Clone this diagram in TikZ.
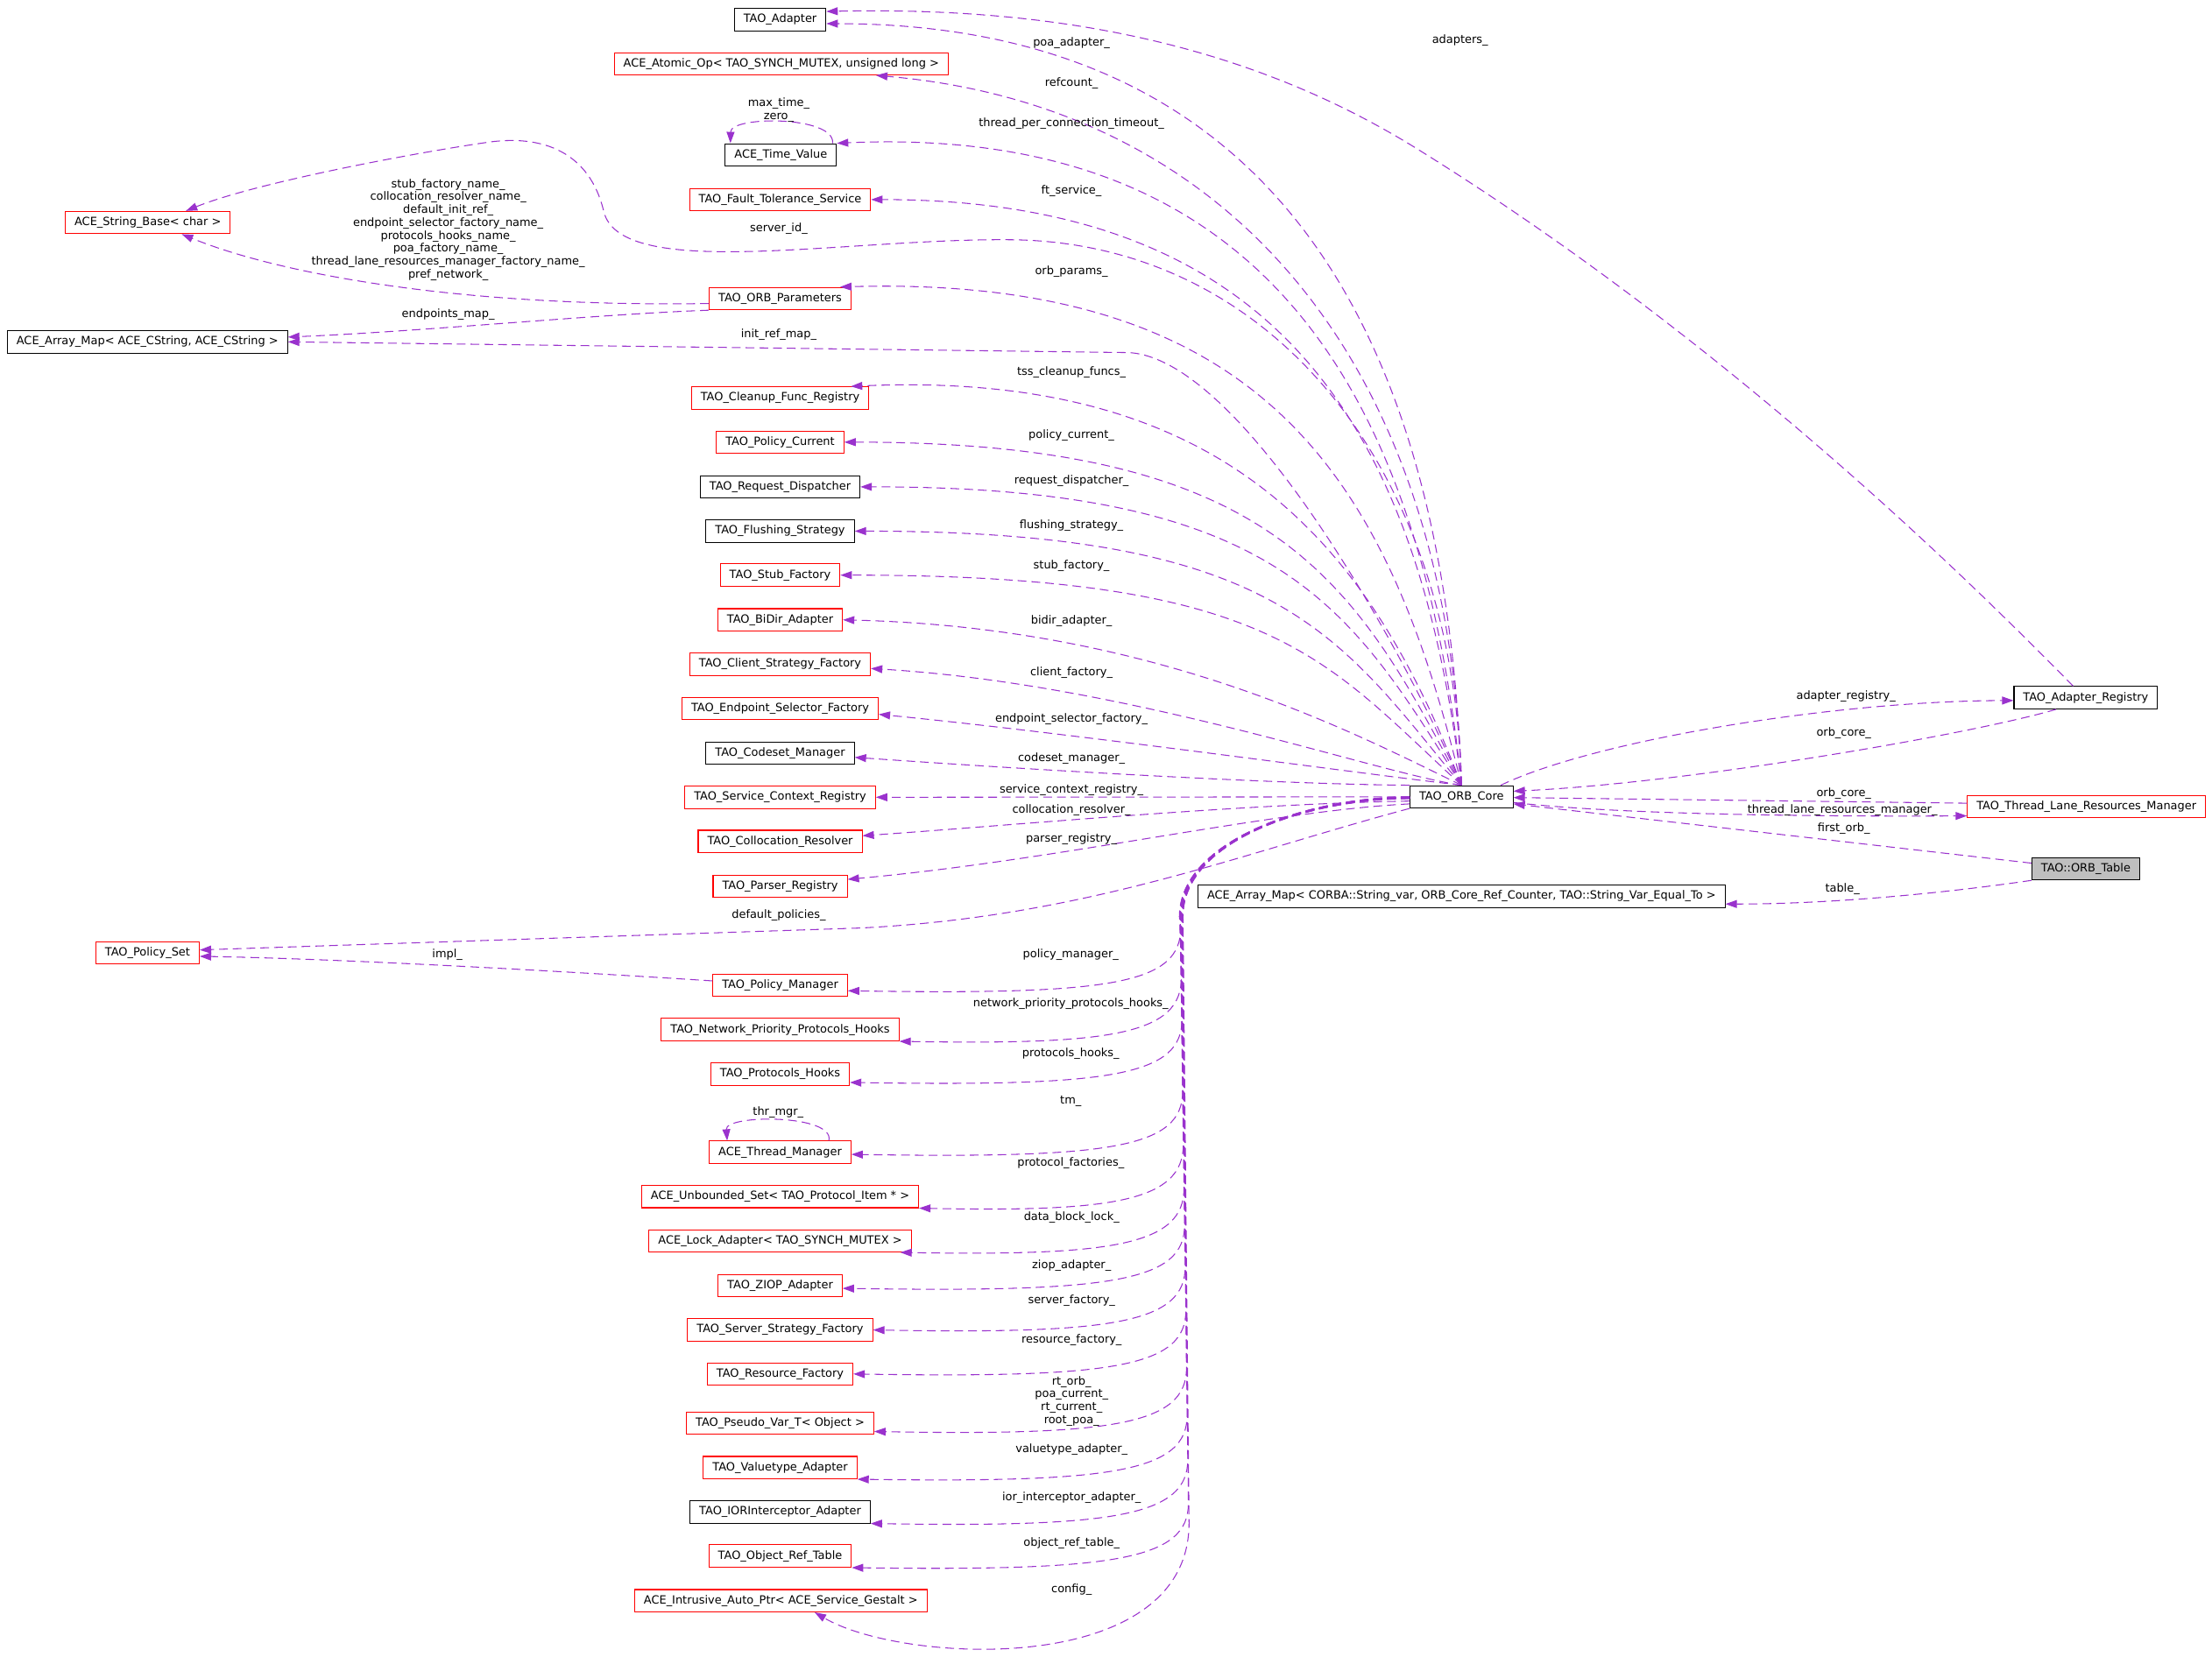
\documentclass[tikz,border=0pt]{standalone}
\usepackage{fontspec}
\setmainfont{DejaVu Sans}
\usetikzlibrary{arrows.meta}
\definecolor{memcol}{HTML}{9A32CD}
\definecolor{tblgray}{HTML}{BFBFBF}
\begin{document}
\begin{tikzpicture}[x=0.16104mm, y=-0.16104mm]
\tikzset{klass/.style={draw, fill=white, line width=0.3pt, inner xsep=1.05mm, inner ysep=0pt, minimum height=2.55mm, font=\fontsize{3.68pt}{4.2pt}\selectfont},
  redklass/.style={klass, draw=red},
  grayklass/.style={klass, fill=tblgray},
  memb/.style={draw=memcol, line width=0.3pt, dash pattern=on 1mm off 0.57mm, -{Triangle[length=1.3mm, width=0.9mm]}},
  lbl/.style={inner sep=0pt, align=center, font=\fontsize{3.68pt}{4.19pt}\selectfont}}
\useasboundingbox (0,0) rectangle (1568,1174.3);
% classes
\node[klass] (adapter) at (553,13.9) {TAO\_Adapter};
\node[redklass] (atomic) at (553.8,45.2) {ACE\_Atomic\_Op< TAO\_SYNCH\_MUTEX, unsigned long >};
\node[klass] (timeval) at (553.5,109.8) {ACE\_Time\_Value};
\node[redklass] (ftserv) at (553,141.5) {TAO\_Fault\_Tolerance\_Service};
\node[redklass] (strbase) at (104.8,157.8) {ACE\_String\_Base< char >};
\node[redklass] (orbparams) at (553,211.7) {TAO\_ORB\_Parameters};
\node[klass] (arraymap) at (104.5,242.4) {ACE\_Array\_Map< ACE\_CString, ACE\_CString >};
\node[redklass] (cleanup) at (553,282.2) {TAO\_Cleanup\_Func\_Registry};
\node[redklass] (policycur) at (553,313.5) {TAO\_Policy\_Current};
\node[klass] (reqdisp) at (553,345.2) {TAO\_Request\_Dispatcher};
\node[klass] (flushing) at (553,376.6) {TAO\_Flushing\_Strategy};
\node[redklass] (stubfac) at (553,407.8) {TAO\_Stub\_Factory};
\node[redklass] (bidir) at (553,439.5) {TAO\_BiDir\_Adapter};
\node[redklass] (clientfac) at (553,471) {TAO\_Client\_Strategy\_Factory};
\node[redklass] (endpoint) at (553,502.5) {TAO\_Endpoint\_Selector\_Factory};
\node[klass] (codeset) at (553,534) {TAO\_Codeset\_Manager};
\node[redklass] (servctx) at (553,565.3) {TAO\_Service\_Context\_Registry};
\node[redklass] (colloc) at (553,596.6) {TAO\_Collocation\_Resolver};
\node[redklass] (parser) at (553,628.3) {TAO\_Parser\_Registry};
\node[redklass] (policyset) at (104.6,675.5) {TAO\_Policy\_Set};
\node[redklass] (policymgr) at (553,698.5) {TAO\_Policy\_Manager};
\node[redklass] (npph) at (553,730.1) {TAO\_Network\_Priority\_Protocols\_Hooks};
\node[redklass] (prothooks) at (553,761.5) {TAO\_Protocols\_Hooks};
\node[redklass] (threadmgr) at (553,817) {ACE\_Thread\_Manager};
\node[redklass] (unbounded) at (553,848.4) {ACE\_Unbounded\_Set< TAO\_Protocol\_Item * >};
\node[redklass] (lockad) at (553,879.8) {ACE\_Lock\_Adapter< TAO\_SYNCH\_MUTEX >};
\node[redklass] (ziop) at (553,911.5) {TAO\_ZIOP\_Adapter};
\node[redklass] (serverstrat) at (553,943) {TAO\_Server\_Strategy\_Factory};
\node[redklass] (resource) at (553,974.2) {TAO\_Resource\_Factory};
\node[redklass] (pseudovar) at (553,1009) {TAO\_Pseudo\_Var\_T< Object >};
\node[redklass] (valuetype) at (553,1040.6) {TAO\_Valuetype\_Adapter};
\node[klass] (ior) at (553,1072) {TAO\_IORInterceptor\_Adapter};
\node[redklass] (objref) at (553,1103.3) {TAO\_Object\_Ref\_Table};
\node[redklass] (intrusive) at (553.5,1135) {ACE\_Intrusive\_Auto\_Ptr< ACE\_Service\_Gestalt >};
\node[klass] (core) at (1036,565) {TAO\_ORB\_Core};
\node[klass] (acemap) at (1036,635.5) {ACE\_Array\_Map< CORBA::String\_var, ORB\_Core\_Ref\_Counter, TAO::String\_Var\_Equal\_To >};
\node[klass] (adreg) at (1478.5,494.7) {TAO\_Adapter\_Registry};
\node[redklass] (tlrm) at (1479,572) {TAO\_Thread\_Lane\_Resources\_Manager};
\node[grayklass] (ortable) at (1478.5,616) {TAO::ORB\_Table};
% members of TAO_ORB_Core, upper fan
\draw[memb] (core.north) .. controls (1025,233) and (901,17) .. (adapter.-5);
\draw[memb] (core.north) .. controls (1027,255) and (870,75) .. (atomic.-7);
\draw[memb] (core.north) .. controls (1008,284) and (900,88) .. (timeval.north east);
\draw[memb] (core.north) .. controls (1006,308) and (910,141.5) .. (ftserv.east);
\draw[memb] (core.north) .. controls (1030,330) and (900,172) .. (717,170) .. controls (600,168.7) and (440,200) .. (428,150) .. controls (418,108) and (385,95) .. (345,101) .. controls (290,109) and (180,130) .. (strbase.17);
\draw[memb] (core.north) .. controls (985,345) and (900,195) .. ([shift={(-8,0)}]orbparams.north east);
\draw[memb] (core.north) .. controls (995,460) and (880,254) .. (800,250) -- (arraymap.east);
\draw[memb] (core.north) .. controls (971,387) and (870,262) .. ([shift={(-13,0)}]cleanup.north east);
\draw[memb] (core.north) .. controls (960,411) and (904,313.5) .. (policycur.east);
\draw[memb] (core.north) .. controls (957,430) and (908,345) .. (reqdisp.east);
\draw[memb] (core.north) .. controls (948,449) and (906,376.6) .. (flushing.east);
\draw[memb] (core.north) .. controls (938,467) and (904,407.8) .. (stubfac.east);
\draw[memb] (core.north) .. controls (960,520) and (820,445) .. (bidir.east);
\draw[memb] (core.north) .. controls (975,548) and (800,485) .. ([shift={(0,3)}]clientfac.east);
\draw[memb] (core.north) .. controls (960,548) and (760,520) .. ([shift={(0,4)}]endpoint.east);
\draw[memb] (core.north west) .. controls (900,556) and (720,545) .. ([shift={(0,3)}]codeset.east);
% middle
\draw[memb] (core.west) -- (servctx.east);
\draw[memb] ([shift={(0,3)}]core.west) .. controls (880,570) and (720,585) .. ([shift={(0,-4)}]colloc.east);
\draw[memb] ([shift={(0,5)}]core.west) .. controls (900,575) and (750,610) .. ([shift={(0,-4.8)}]parser.east);
\draw[memb] (core.south west) .. controls (880,605) and (770,650) .. (610,658) -- (policyset.3);
% lower bundle
\draw[memb] (core.west) .. controls (930,565) and (836,595) .. (836,650) -- (837,657.5) .. controls (837,697.5) and (790,705.5) .. ([shift={(0,4)}]policymgr.east);
\draw[memb] ([shift={(0,0.1)}]core.west) .. controls (930,565.1) and (836.2,595) .. (836.2,650) -- (837.45,693) .. controls (837.45,733) and (790,741) .. (npph.south east);
\draw[memb] ([shift={(0,0.2)}]core.west) .. controls (930,565.2) and (836.4,595) .. (836.4,650) -- (837.9,722.5) .. controls (837.9,762.5) and (790,770.5) .. ([shift={(0,6)}]prothooks.east);
\draw[memb] ([shift={(0,0.3)}]core.west) .. controls (930,565.3) and (836.6,595) .. (836.6,650) -- (838.35,773.5) .. controls (838.35,813.5) and (790,821.5) .. ([shift={(0,1.5)}]threadmgr.east);
\draw[memb] ([shift={(0,0.4)}]core.west) .. controls (930,565.4) and (836.8,595) .. (836.8,650) -- (838.8,811.5) .. controls (838.8,851.5) and (790,859.5) .. (unbounded.south east);
\draw[memb] ([shift={(0,0.5)}]core.west) .. controls (930,565.5) and (837,595) .. (837,650) -- (839.25,842.6) .. controls (839.25,882.6) and (790,890.6) .. ([shift={(-8,0)}]lockad.south east);
\draw[memb] ([shift={(0,0.6)}]core.west) .. controls (930,565.6) and (837.2,595) .. (837.2,650) -- (839.7,868.5) .. controls (839.7,908.5) and (790,916.5) .. ([shift={(0,2)}]ziop.east);
\draw[memb] ([shift={(0,0.7)}]core.west) .. controls (930,565.7) and (837.4,595) .. (837.4,650) -- (840.15,898) .. controls (840.15,938) and (790,946) .. (serverstrat.east);
\draw[memb] ([shift={(0,0.8)}]core.west) .. controls (930,565.8) and (837.6,595) .. (837.6,650) -- (840.6,929.2) .. controls (840.6,969.2) and (790,977.2) .. (resource.east);
\draw[memb] ([shift={(0,0.9)}]core.west) .. controls (930,565.9) and (837.8,595) .. (837.8,650) -- (841.05,970) .. controls (841.05,1010) and (790,1018) .. ([shift={(0,6)}]pseudovar.east);
\draw[memb] ([shift={(0,1)}]core.west) .. controls (930,566) and (838,595) .. (838,650) -- (841.5,1003.4) .. controls (841.5,1043.4) and (790,1051.4) .. (valuetype.south east);
\draw[memb] ([shift={(0,1.1)}]core.west) .. controls (930,566.1) and (838.2,595) .. (838.2,650) -- (841.95,1035) .. controls (841.95,1075) and (790,1083) .. (ior.south east);
\draw[memb] ([shift={(0,1.2)}]core.west) .. controls (930,566.2) and (838.4,595) .. (838.4,650) -- (842.4,1066) .. controls (842.4,1106) and (790,1114) .. (objref.south east);
\draw[memb] ([shift={(0,1.3)}]core.west) .. controls (930,566.3) and (838.6,595) .. (838.6,650) -- (842.85,1080) .. controls (842.85,1190) and (640,1180) .. ([shift={(24,0)}]intrusive.south);
% other members
\draw[memb] ([shift={(-3,0)}]timeval.north east) .. controls (592,82) and (518,82) .. ([shift={(4,0)}]timeval.north west);
\draw[memb] ([shift={(-16,0)}]threadmgr.north east) .. controls (592,790) and (514,790) .. ([shift={(13,0)}]threadmgr.north west);
\draw[memb] ([shift={(0,3.5)}]orbparams.west) .. controls (330,218) and (200,195) .. ([shift={(24,0)}]strbase.south);
\draw[memb] (orbparams.south west) .. controls (420,223) and (300,235) .. ([shift={(0,-3.4)}]arraymap.east);
\draw[memb] ([shift={(0,-3)}]policymgr.west) .. controls (420,690) and (250,680) .. (policyset.-4);
\draw[memb] ([shift={(-9,0)}]core.north east) .. controls (1130,525) and (1300,497) .. ([shift={(0,2)}]adreg.west);
\draw[memb] ([shift={(-21,0)}]adreg.south) .. controls (1400,520) and (1200,555) .. ([shift={(0,-4)}]core.east);
\draw[memb] ([shift={(0,-2.5)}]tlrm.west) -- ([shift={(0,0.5)}]core.east);
\draw[memb] ([shift={(0,4)}]core.east) .. controls (1150,578) and (1300,579) .. ([shift={(0,6.5)}]tlrm.west);
\draw[memb] ([shift={(0,-4)}]ortable.west) -- ([shift={(0,5)}]core.east);
\draw[memb] (ortable.south west) .. controls (1380,633) and (1300,641) .. ([shift={(0,5.5)}]acemap.east);
\draw[memb] ([shift={(-9,0)}]adreg.north) .. controls (1330,344) and (1173,210) .. (1003,104.6) .. controls (874,25) and (732,5) .. (adapter.10);
% labels
\node[lbl] (lpoa) at (759.5,30.2) {poa\_adapter\_};
\node[lbl] (lrefc) at (759.5,58.9) {refcount\_};
\node[lbl] (ltpct) at (759.5,87.7) {thread\_per\_connection\_timeout\_};
\node[lbl] (lft) at (759.5,135.2) {ft\_service\_};
\node[lbl] (lsrvid) at (552,162) {server\_id\_};
\node[lbl] (lorbp) at (759.5,192.6) {orb\_params\_};
\node[lbl] (linit) at (552,237) {init\_ref\_map\_};
\node[lbl] (ltss) at (759.5,264.1) {tss\_cleanup\_funcs\_};
\node[lbl] (lpcur) at (759.5,309) {policy\_current\_};
\node[lbl] (lreq) at (759.5,341) {request\_dispatcher\_};
\node[lbl] (lflush) at (759.5,372.7) {flushing\_strategy\_};
\node[lbl] (lstub) at (759.5,401.5) {stub\_factory\_};
\node[lbl] (lbidir) at (759.5,440.5) {bidir\_adapter\_};
\node[lbl] (lclient) at (759.5,477) {client\_factory\_};
\node[lbl] (lendp) at (759.5,510) {endpoint\_selector\_factory\_};
\node[lbl] (lcodeset) at (759.5,538.1) {codeset\_manager\_};
\node[lbl] (lservctx) at (759.5,560.4) {service\_context\_registry\_};
\node[lbl] (lcolloc) at (759.5,574.2) {collocation\_resolver\_};
\node[lbl] (lparser) at (759.5,595) {parser\_registry\_};
\node[lbl] (ldefpol) at (552,648.9) {default\_policies\_};
\node[lbl] (limpl) at (317.1,676.9) {impl\_};
\node[lbl] (lpolmgr) at (759,676.9) {policy\_manager\_};
\node[lbl] (lnpph) at (759,712) {network\_priority\_protocols\_hooks\_};
\node[lbl] (lprot) at (759,746.8) {protocols\_hooks\_};
\node[lbl] (ltm) at (759,781) {tm\_};
\node[lbl] (lthr) at (551.6,789) {thr\_mgr\_};
\node[lbl] (lpfac) at (759,824.8) {protocol\_factories\_};
\node[lbl] (ldbl) at (759.6,863) {data\_block\_lock\_};
\node[lbl] (lziop) at (759.6,897.3) {ziop\_adapter\_};
\node[lbl] (lsfac) at (759.6,922.1) {server\_factory\_};
\node[lbl] (lrfac) at (759.6,950) {resource\_factory\_};
\node[lbl] (lpseudo) at (759.6,993.4) {rt\_orb\_\\poa\_current\_\\rt\_current\_\\root\_poa\_};
\node[lbl] (lvalue) at (759.6,1027.7) {valuetype\_adapter\_};
\node[lbl] (lior) at (759.6,1061.9) {ior\_interceptor\_adapter\_};
\node[lbl] (lobjref) at (759.6,1094.5) {object\_ref\_table\_};
\node[lbl] (lconfig) at (759.6,1127) {config\_};
\node[lbl] (lmaxt) at (552,78) {max\_time\_\\zero\_};
\node[lbl] (lstrs) at (317.7,162.9) {stub\_factory\_name\_\\collocation\_resolver\_name\_\\default\_init\_ref\_\\endpoint\_selector\_factory\_name\_\\protocols\_hooks\_name\_\\poa\_factory\_name\_\\thread\_lane\_resources\_manager\_factory\_name\_\\pref\_network\_};
\node[lbl] (lendpm) at (317.7,223.1) {endpoints\_map\_};
\node[lbl] (ladapters) at (1035,28.7) {adapters\_};
\node[lbl] (ladreg) at (1308.5,493.7) {adapter\_registry\_};
\node[lbl] (lorbc1) at (1307,520) {orb\_core\_};
\node[lbl] (lorbc2) at (1307,562.4) {orb\_core\_};
\node[lbl] (ltlrm) at (1306,574.4) {thread\_lane\_resources\_manager\_};
\node[lbl] (lfirst) at (1307,587.4) {first\_orb\_};
\node[lbl] (ltable) at (1306,630.3) {table\_};
\end{tikzpicture}
\end{document}
